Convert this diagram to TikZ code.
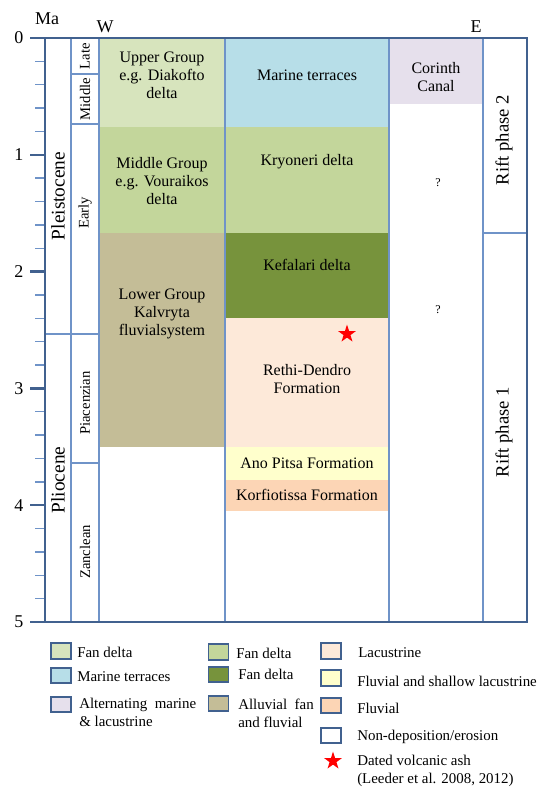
\documentclass[tikz,border=0pt]{standalone}
\usepackage{fontspec}
\setmainfont{Liberation Serif}
\usetikzlibrary{shapes.geometric}
\definecolor{upperg}{HTML}{D7E4BD}
\definecolor{midg}{HTML}{C3D69B}
\definecolor{kefal}{HTML}{77933C}
\definecolor{lowg}{HTML}{C4BD97}
\definecolor{marine}{HTML}{B7DEE8}
\definecolor{canal}{HTML}{E6E0EC}
\definecolor{lacus}{HTML}{FDE9D9}
\definecolor{shallow}{HTML}{FFFFCC}
\definecolor{fluv}{HTML}{FCD5B5}
\definecolor{lineblue}{HTML}{6F93C8}
\definecolor{axisblue}{HTML}{41618F}
\tikzset{
	divide/.style={draw=lineblue,line width=1.1pt},
	frame/.style={draw=axisblue,line width=1.9pt},
	majortick/.style={draw=axisblue,line width=1.9pt},
	minortick/.style={draw=lineblue,line width=1.1pt},
	ma/.style={anchor=east,inner sep=0pt,font=\fontsize{13.5}{15}\selectfont},
	head/.style={inner sep=0pt,font=\fontsize{13.5}{15}\selectfont},
	epoch/.style={rotate=90,inner sep=0pt,font=\fontsize{14.5}{16}\selectfont},
	stage/.style={rotate=90,inner sep=0pt,font=\fontsize{11}{12}\selectfont},
	lbl/.style={align=center,inner sep=0pt,font=\fontsize{12}{13.5}\selectfont},
	rift/.style={rotate=90,inner sep=0pt,font=\fontsize{14}{16}\selectfont},
	ashstar/.style={star,star points=5,star point ratio=2.6,fill=red,inner sep=0pt,minimum size=14pt},
	key/.style={draw=axisblue,line width=1.4pt,minimum width=15pt,minimum height=11.5pt,inner sep=0pt},
	keytext/.style={anchor=west,align=left,inner sep=0pt,font=\fontsize{11.2}{13.5}\selectfont}
}
\begin{document}
\begin{tikzpicture}[x=0.75pt,y=-0.75pt]
\useasboundingbox (0,0) rectangle (538,788);
% layers
\fill[upperg] (99,38) rectangle (225,127);
\fill[midg] (99,127) rectangle (225,233);
\fill[lowg] (99,233) rectangle (225,447);
\fill[marine] (225,38) rectangle (389,127);
\fill[midg] (225,127) rectangle (389,233);
\fill[kefal] (225,233) rectangle (389,318);
\fill[lacus] (225,318) rectangle (389,447);
\fill[shallow] (225,447) rectangle (389,480);
\fill[fluv] (225,480) rectangle (389,511);
\fill[canal] (389,38) rectangle (483,104);
% grid
\foreach \x in {71,99,225,389,483}
	\draw[divide] (\x,38) -- (\x,622);
\draw[divide] (71,74) -- (99,74);
\draw[divide] (71,124) -- (99,124);
\draw[divide] (45,334) -- (99,334);
\draw[divide] (71,463) -- (99,463);
\draw[divide] (483,233) -- (527,233);
% ticks
\foreach \m in {0.2,0.4,...,4.9}
	\draw[minortick] (35,{38+116.8*\m}) -- (45,{38+116.8*\m});
\foreach \t in {0,...,5}
	\draw[majortick] (45,{38+116.8*\t}) -- (30,{38+116.8*\t}) node[ma,xshift=-4pt] (tick\t) {\t};
% frame
\draw[frame] (30,38) -- (527,38) -- (527,622) -- (30,622);
\draw[frame] (45,38) -- (45,622);
\node[head] (ma) at (47,19) {Ma};
\node[head] (west) at (105,27) {W};
\node[head] (east) at (476,27) {E};
% epochs and stages
\node[epoch] (pleist) at (58,196) {Pleistocene};
\node[epoch] (plio) at (58,480) {Pliocene};
\node[stage] (late) at (85,56) {Late};
\node[stage] (middle) at (85,99) {Middle};
\node[stage] (early) at (85,213) {Early};
\node[stage] (piac) at (85,403) {Piacenzian};
\node[stage] (zancl) at (85,552) {Zanclean};
% units
\node[lbl] (upper) at (162,75) {Upper Group\\e.g. Diakofto\\delta};
\node[lbl] (midgrp) at (162,181) {Middle Group\\e.g. Vouraikos\\delta};
\node[lbl] (lower) at (162,314) {Lower Group\\Kalvryta\\fluvialsystem};
\node[lbl] (terr) at (307,75) {Marine terraces};
\node[lbl] (kryo) at (307,162) {Kryoneri delta};
\node[lbl] (kefa) at (307,265) {Kefalari delta};
\node[lbl] (rethi) at (307,379) {Rethi-Dendro\\Formation};
\node[lbl] (ano) at (307,463) {Ano Pitsa Formation};
\node[lbl] (korf) at (307,495) {Korfiotissa Formation};
\node[lbl] (canal) at (436,77) {Corinth\\Canal};
\node[lbl,font=\fontsize{9}{10}\selectfont] (q1) at (438,183) {?};
\node[lbl,font=\fontsize{9}{10}\selectfont] (q2) at (438,310) {?};
\node[ashstar] (ash) at (347,334) {};
\node[rift] (rift2) at (504,140) {Rift phase 2};
\node[rift] (rift1) at (504,432) {Rift phase 1};
% legend
\node[key,fill=upperg] (k1) at (61,651) {};
\node[keytext] (t1) at (77,652) {Fan delta};
\node[key,fill=marine] (k2) at (61,675.5) {};
\node[keytext] (t2) at (77,677) {Marine terraces};
\node[key,fill=canal] (k3) at (61,704.5) {};
\node[keytext] (t3) at (79,712) {Alternating\ \ marine\\\& lacustrine};
\node[key,fill=midg] (k4) at (218.5,652) {};
\node[keytext] (t4) at (236,653) {Fan delta};
\node[key,fill=kefal] (k5) at (218.5,674.5) {};
\node[keytext] (t5) at (238,674) {Fan delta};
\node[key,fill=lowg] (k6) at (218.5,703.5) {};
\node[keytext] (t6) at (238,713) {Alluvial\ \ fan\\and fluvial};
\node[key,fill=lacus] (k7) at (331,651) {};
\node[keytext] (t7) at (358,653) {Lacustrine};
\node[key,fill=shallow] (k8) at (331,678) {};
\node[keytext] (t8) at (357,681) {Fluvial and shallow lacustrine};
\node[key,fill=fluv] (k9) at (331,705.5) {};
\node[keytext] (t9) at (357,708) {Fluvial};
\node[key,fill=white] (k10) at (331,735.5) {};
\node[keytext] (t10) at (357,737) {Non-deposition/erosion};
\node[ashstar] (k11) at (333,761) {};
\node[keytext] (t11) at (357,771) {Dated volcanic ash\\(Leeder et al. 2008, 2012)};
\end{tikzpicture}
\end{document}
